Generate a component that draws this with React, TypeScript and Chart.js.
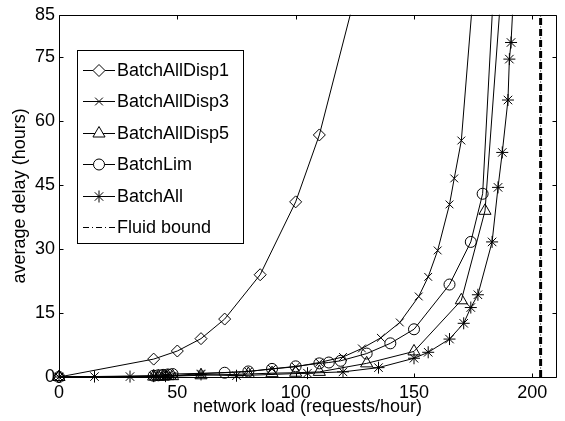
import React, { useEffect, useRef } from 'react';
import { Chart, registerables } from 'chart.js';
import { drawPoint } from 'chart.js/helpers';

Chart.register(...registerables);

const FONT = '"Liberation Sans", Arial, Helvetica, sans-serif';

const xTickValues = [0, 50, 100, 150, 200];
const yTickValues = [0, 15, 30, 45, 60, 75, 85];

const seriesNames = ['BatchAllDisp1', 'BatchAllDisp3', 'BatchAllDisp5', 'BatchLim', 'BatchAll', 'Fluid bound'];

const loadDisp1 = [0, 40, 50, 60, 70, 85, 100, 110, 130];
const delayDisp1 = [0, 4.2, 6.1, 9.0, 13.6, 24.0, 41.1, 56.8, 100];

const loadDisp3 = [0, 40, 42, 44, 46, 48, 60, 80, 90, 100, 110, 120, 128, 136, 144, 152, 156, 160, 165, 167, 170, 175];
const delayDisp3 = [0, 0.2, 0.2, 0.3, 0.3, 0.3, 0.8, 1.3, 1.9, 2.4, 3.4, 4.7, 6.7, 9.2, 12.8, 18.9, 23.5, 29.7, 40.5, 46.6, 55.5, 90];

const loadDisp5 = [0, 40, 42, 44, 46, 48, 60, 80, 90, 100, 110, 130, 150, 170, 180, 187];
const delayDisp5 = [0, 0.1, 0.1, 0.1, 0.2, 0.2, 0.4, 0.7, 0.9, 1.0, 1.2, 3.2, 6.0, 18.0, 39.0, 92];

const loadLim = [0, 40, 42, 44, 46, 48, 70, 80, 90, 100, 110, 114, 119, 130, 140, 150, 165, 174, 179, 184];
const delayLim = [0, 0.3, 0.4, 0.5, 0.6, 0.7, 1.0, 1.3, 1.9, 2.5, 3.2, 3.4, 3.8, 5.5, 7.9, 11.2, 21.7, 31.7, 43.0, 95];

const loadAll = [0, 15, 30, 40, 45, 60, 75, 105, 120, 135, 150, 156, 165, 171, 174, 177, 183, 185.5, 187.3, 189.7, 190.3, 191, 193];
const delayAll = [0, 0.1, 0.1, 0.2, 0.2, 0.6, 0.3, 0.9, 1.2, 2.2, 4.4, 5.8, 8.9, 12.6, 16.3, 19.3, 31.7, 44.5, 52.7, 65.0, 74.6, 78.5, 100];

const loadFluid = [203.5, 203.5];
const delayFluid = [0, 85];

const markerStyles = ['rectRot', 'crossRot', 'triangle', 'circle', 'star', ''];
const markerRadii = [6, 5.5, 7, 5.5, 6, 0];

const toPoints = (xs: number[], ys: number[]) => xs.map((x, i) => ({ x, y: ys[i] }));

const frameAndTicks = {
  id: 'frameAndTicks',
  afterDatasetsDraw(chart: any) {
    const { ctx, chartArea: a, scales } = chart;
    ctx.save();
    ctx.strokeStyle = '#000';
    ctx.lineWidth = 1;
    ctx.setLineDash([]);
    ctx.beginPath();
    const L = Math.round(a.left) + 0.5, R = Math.round(a.right) + 0.5;
    const T = Math.round(a.top) + 0.5, B = Math.round(a.bottom) + 0.5;
    ctx.rect(L, T, R - L, B - T);
    const tl = 4;
    xTickValues.forEach((v) => {
      const px = Math.round(scales.x.getPixelForValue(v)) + 0.5;
      ctx.moveTo(px, B); ctx.lineTo(px, B - tl);
      ctx.moveTo(px, T); ctx.lineTo(px, T + tl);
    });
    yTickValues.forEach((v) => {
      const py = Math.round(scales.y.getPixelForValue(v)) + 0.5;
      ctx.moveTo(L, py); ctx.lineTo(L + tl, py);
      ctx.moveTo(R, py); ctx.lineTo(R - tl, py);
    });
    ctx.stroke();
    ctx.restore();
  },
};

const legendBox = {
  id: 'legendBox',
  afterDraw(chart: any) {
    const { ctx } = chart;
    ctx.save();
    const bx = 77.5, by = 50.5, bw = 166, bh = 193;
    ctx.fillStyle = '#fff';
    ctx.fillRect(bx, by, bw, bh);
    ctx.strokeStyle = '#000';
    ctx.lineWidth = 1;
    ctx.strokeRect(bx, by, bw, bh);
    ctx.font = '18px ' + FONT;
    ctx.textBaseline = 'middle';
    ctx.textAlign = 'left';
    seriesNames.forEach((name, i) => {
      const y = Math.round(70 + i * 31.4) + 0.5;
      ctx.beginPath();
      ctx.setLineDash(i === 5 ? [6, 3, 1, 3] : []);
      ctx.moveTo(83, y);
      ctx.lineTo(115, y);
      ctx.strokeStyle = '#000';
      ctx.stroke();
      ctx.setLineDash([]);
      if (markerStyles[i]) {
        ctx.fillStyle = '#fff';
        ctx.strokeStyle = '#000';
        ctx.lineWidth = 1;
        drawPoint(ctx, { pointStyle: markerStyles[i], radius: markerRadii[i], rotation: 0, borderWidth: 1 } as any, 99, y);
      }
      ctx.fillStyle = '#000';
      ctx.fillText(name, 117, y + 0.5);
    });
    ctx.restore();
  },
};

export default function App() {
  const ref = useRef<HTMLCanvasElement | null>(null);
  useEffect(() => {
    if (!ref.current) return;
    Chart.defaults.font.family = FONT;
    Chart.defaults.color = '#000';
    const lineSeries = [
      toPoints(loadDisp1, delayDisp1),
      toPoints(loadDisp3, delayDisp3),
      toPoints(loadDisp5, delayDisp5),
      toPoints(loadLim, delayLim),
      toPoints(loadAll, delayAll),
    ];
    const datasets: any[] = lineSeries.map((data, i) => ({
      label: seriesNames[i],
      data,
      borderColor: '#000',
      borderWidth: 1,
      backgroundColor: 'transparent',
      pointStyle: markerStyles[i],
      pointRadius: markerRadii[i],
      pointBorderColor: '#000',
      pointBackgroundColor: 'rgba(0,0,0,0)',
      pointBorderWidth: 1,
      fill: false,
      tension: 0,
      clip: { left: 10, right: 0, top: 0, bottom: 10 },
    }));
    datasets.push({
      label: seriesNames[5],
      data: toPoints(loadFluid, delayFluid),
      borderColor: '#000',
      borderWidth: 1,
      borderDash: [7, 1.5, 1, 1.5],
      pointRadius: 0,
      fill: false,
      clip: 0,
    });
    datasets.push({
      label: seriesNames[5] + ' ',
      data: toPoints(loadFluid, delayFluid),
      borderColor: '#000',
      borderWidth: 3,
      borderDash: [7, 4],
      pointRadius: 0,
      fill: false,
      clip: 0,
    });
    const chart = new Chart(ref.current, {
      type: 'line',
      data: { datasets },
      options: {
        animation: false,
        responsive: false,
        devicePixelRatio: 1,
        layout: { padding: { top: 12, right: 9, left: 0, bottom: 0 } },
        plugins: { legend: { display: false }, tooltip: { enabled: false } },
        scales: {
          x: {
            type: 'linear',
            min: 0,
            max: 210,
            grid: { display: false, drawTicks: false },
            border: { display: false },
            afterBuildTicks: (s: any) => { s.ticks = xTickValues.map((v) => ({ value: v })); },
            afterFit: (s: any) => { s.height = 44; },
            ticks: { font: { size: 18 }, color: '#000', padding: 5, maxRotation: 0 },
            title: { display: true, text: 'network load (requests/hour)', font: { size: 18 }, color: '#000', padding: { top: 0, bottom: 3 } },
          },
          y: {
            type: 'linear',
            min: 0,
            max: 85,
            grid: { display: false, drawTicks: false },
            border: { display: false },
            afterBuildTicks: (s: any) => { s.ticks = yTickValues.map((v) => ({ value: v })); },
            afterFit: (s: any) => { s.width = 59; },
            ticks: { font: { size: 18 }, color: '#000', padding: 4 },
            title: { display: true, text: 'average delay (hours)', font: { size: 18 }, color: '#000', padding: { top: 9, bottom: 0 } },
          },
        },
      },
      plugins: [frameAndTicks, legendBox],
    } as any);
    return () => chart.destroy();
  }, []);
  return (
    <div style={{ position: 'absolute', left: 0, top: 0, width: 565, height: 421, background: '#fff' }}>
      <canvas ref={ref} width={565} height={421} style={{ width: 565, height: 421, display: 'block' }} />
    </div>
  );
}
